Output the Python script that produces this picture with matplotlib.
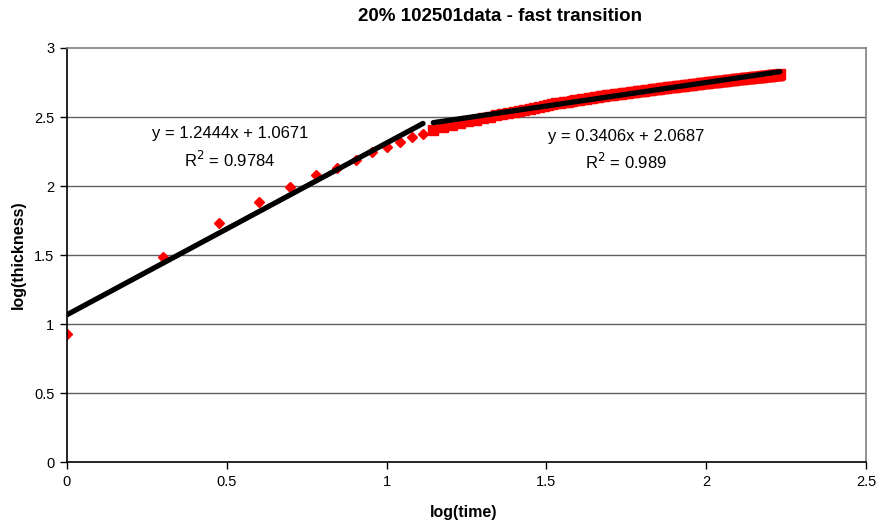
import numpy as np
import matplotlib
matplotlib.use('Agg')
import matplotlib.pyplot as plt

plt.rcParams['font.family'] = ['Liberation Sans', 'DejaVu Sans']

# early stage: minutes 1..13
early_time = list(range(1, 14))
early_logthk = [0.930, 1.486, 1.730, 1.882, 1.993, 2.080, 2.133, 2.190, 2.249,
                2.285, 2.320, 2.357, 2.380]

# late stage: minutes 14..170
late_time = list(range(14, 171))
late_logthk = [
    2.408, 2.426, 2.442, 2.455, 2.468, 2.479, 2.491, 2.501, 2.511, 2.521,
    2.530, 2.539, 2.547, 2.554, 2.561, 2.568, 2.575, 2.581, 2.587, 2.592,
    2.598, 2.603, 2.608, 2.612, 2.617, 2.621, 2.626, 2.629, 2.633, 2.637,
    2.640, 2.644, 2.647, 2.650, 2.653, 2.657, 2.660, 2.662, 2.665, 2.667,
    2.670, 2.672, 2.674, 2.677, 2.679, 2.681, 2.683, 2.686, 2.688, 2.690,
    2.692, 2.694, 2.696, 2.698, 2.700, 2.702, 2.704, 2.705, 2.707, 2.709,
    2.711, 2.713, 2.714, 2.716, 2.718, 2.719, 2.721, 2.722, 2.724, 2.725,
    2.727, 2.728, 2.730, 2.731, 2.733, 2.734, 2.735, 2.737, 2.738, 2.739,
    2.740, 2.742, 2.743, 2.744, 2.746, 2.747, 2.748, 2.749, 2.750, 2.751,
    2.753, 2.754, 2.755, 2.756, 2.757, 2.758, 2.759, 2.760, 2.761, 2.762,
    2.763, 2.764, 2.765, 2.766, 2.767, 2.768, 2.769, 2.770, 2.771, 2.772,
    2.773, 2.774, 2.775, 2.776, 2.777, 2.778, 2.778, 2.779, 2.780, 2.781,
    2.782, 2.783, 2.783, 2.784, 2.785, 2.786, 2.787, 2.787, 2.788, 2.789,
    2.790, 2.790, 2.791, 2.792, 2.793, 2.793, 2.794, 2.795, 2.795, 2.796,
    2.797, 2.798, 2.798, 2.799, 2.800, 2.800, 2.801, 2.802, 2.802, 2.803,
    2.804, 2.804, 2.805, 2.806, 2.806, 2.807, 2.808,
]

# linear trend coefficients (slope, intercept, r2)
early_fit = (1.2444, 1.0671, 0.9784)
late_fit = (0.3406, 2.0687, 0.989)

early_x = np.log10(early_time)
late_x = np.log10(late_time)

fig = plt.figure(figsize=(8.8, 5.24), dpi=100)
ax = fig.add_axes([0.0761, 0.1183, 0.9080, 0.7901])

for y in [0.5, 1.0, 1.5, 2.0, 2.5]:
    ax.axhline(y, color='#606060', lw=1.0, zorder=0)

ax.plot(early_x, early_logthk, ls='none', marker='D', ms=5.6,
        color='#ff0000', mec='#ff0000', zorder=2)
ax.plot(late_x, late_logthk, ls='none', marker='s', ms=7.8,
        color='#ff0000', mec='#ff0000', zorder=2)

# trend lines over each series' range
for xs, (m, b, r2) in [(early_x, early_fit), (late_x, late_fit)]:
    xx = np.array([xs.min(), xs.max()])
    ax.plot(xx, m * xx + b, color='black', lw=3.8,
            solid_capstyle='round', zorder=3)

ax.text(0.51, 2.377, 'y = 1.2444x + 1.0671', ha='center', va='center', fontsize=12)
ax.text(0.51, 2.188, 'R$^2$ = 0.9784', ha='center', va='center', fontsize=12)
ax.text(1.749, 2.362, 'y = 0.3406x + 2.0687', ha='center', va='center', fontsize=12)
ax.text(1.749, 2.174, 'R$^2$ = 0.989', ha='center', va='center', fontsize=12)

ax.set_xlim(0, 2.5)
ax.set_ylim(0, 3)
ax.set_xticks([0, 0.5, 1, 1.5, 2, 2.5])
ax.set_xticklabels(['0', '0.5', '1', '1.5', '2', '2.5'])
ax.set_yticks([0, 0.5, 1, 1.5, 2, 2.5, 3])
ax.set_yticklabels(['0', '0.5', '1', '1.5', '2', '2.5', '3'])
ax.tick_params(direction='out', length=5, width=1, labelsize=10.5, pad=4)

ax.spines['left'].set_color('black')
ax.spines['bottom'].set_color('black')
ax.spines['top'].set_color('#808080')
ax.spines['right'].set_color('#808080')
for s in ax.spines.values():
    s.set_linewidth(1.2)

ax.set_xlabel('log(time)', fontsize=11.5, fontweight='bold')
ax.set_ylabel('log(thickness)', fontsize=11.5, fontweight='bold')
ax.xaxis.set_label_coords(0.4965, -0.104)
ax.yaxis.set_label_coords(-0.052, 0.5)
fig.text(0.568, 0.969, '20% 102501data - fast transition', fontsize=13.5,
         fontweight='bold', ha='center', va='center')

fig.savefig('out.png', dpi=100)
